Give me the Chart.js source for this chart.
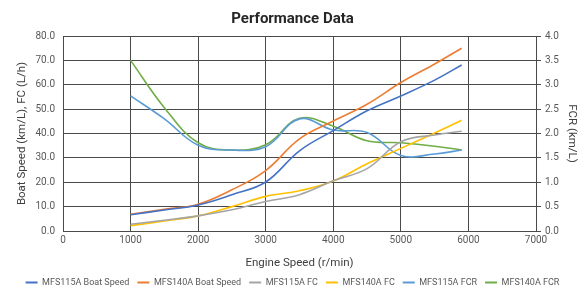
<!DOCTYPE html>
<html>
<head>
<meta charset="utf-8">
<script src="https://cdn.jsdelivr.net/npm/chart.js@4.4.1/dist/chart.umd.min.js"></script>
<style>
  html, body { margin: 0; padding: 0; background: #ffffff; }
  #wrap { width: 585px; height: 289px; position: relative; }
</style>
</head>
<body>
<div id="wrap"><canvas id="c" width="585" height="289"></canvas></div>
<script>
// ---- data ----
const engineSpeed = [1000, 1500, 2000, 2500, 3000, 3500, 4000, 4500, 5000, 5500, 5900];
const mfs115aBoatSpeed = [6.7, 8.6, 10.7, 14.9, 20.1, 32.9, 41.2, 49.3, 55.4, 61.9, 68.1];
const mfs140aBoatSpeed = [6.9, 8.9, 11.0, 16.9, 24.8, 37.8, 45.1, 52.0, 60.9, 68.5, 75.0];
const mfs115aFC = [2.75, 4.4, 6.2, 8.7, 12.1, 14.9, 20.6, 25.6, 36.6, 39.4, 40.9];
const mfs140aFC = [2.2, 4.1, 6.2, 10.0, 14.2, 16.5, 20.5, 27.6, 33.9, 40.2, 45.4];
const mfs115aFCR = [2.77, 2.30, 1.76, 1.66, 1.73, 2.30, 2.07, 2.02, 1.55, 1.58, 1.66];
const mfs140aFCR = [3.50, 2.53, 1.81, 1.66, 1.77, 2.31, 2.15, 1.85, 1.81, 1.74, 1.66];
const seriesNames = ['MFS115A Boat Speed', 'MFS140A Boat Speed', 'MFS115A FC', 'MFS140A FC', 'MFS115A FCR', 'MFS140A FCR'];
const xTicks = [0, 1000, 2000, 3000, 4000, 5000, 6000, 7000];
const leftTicks = [0, 10, 20, 30, 40, 50, 60, 70, 80];
const rightTicks = [0, 0.5, 1, 1.5, 2, 2.5, 3, 3.5, 4];

const colors = ['#4472C4', '#ED7D31', '#A5A5A5', '#FFC000', '#5B9BD5', '#70AD47'];
const FONT = 'Roboto, "Liberation Sans", sans-serif';
const GRID = '#4a4a4a';
const TXT = '#595959';

function pts(ys) { return engineSpeed.map((x, i) => ({ x: x, y: ys[i] })); }

const seriesValues = [mfs115aBoatSpeed, mfs140aBoatSpeed, mfs115aFC, mfs140aFC, mfs115aFCR, mfs140aFCR];
const datasets = seriesValues.map((vals, i) => ({
  label: seriesNames[i],
  data: pts(vals),
  borderColor: colors[i],
  backgroundColor: colors[i],
  borderWidth: 1.6,
  pointRadius: 0,
  pointHoverRadius: 0,
  tension: 0.4,
  fill: false,
  yAxisID: i >= 4 ? 'y1' : 'y'
}));

new Chart(document.getElementById('c'), {
  type: 'line',
  data: { datasets: datasets },
  options: {
    responsive: false,
    animation: false,
    devicePixelRatio: 1,
    layout: { padding: { left: 0, right: 0, top: 0, bottom: -8 } },
    plugins: {
      title: {
        display: true,
        text: 'Performance Data',
        color: '#262626',
        font: { family: FONT, size: 15, weight: 'bold' },
        padding: { top: 10, bottom: 8 }
      },
      legend: {
        display: true,
        position: 'bottom',
        labels: {
          boxWidth: 12,
          boxHeight: 2,
          padding: 8,
          color: TXT,
          font: { family: FONT, size: 9 },
          generateLabels: function (chart) {
            return Chart.defaults.plugins.legend.labels.generateLabels(chart).map(l => { l.lineWidth = 0; return l; });
          }
        }
      },
      tooltip: { enabled: false }
    },
    scales: {
      x: {
        type: 'linear',
        min: 0,
        max: 7000,
        afterBuildTicks: s => { s.ticks = xTicks.map(v => ({ value: v })); },
        afterFit: s => { s.height = 39; },
        ticks: { color: TXT, font: { family: FONT, size: 10 }, padding: 3, maxRotation: 0, callback: v => String(v) },
        grid: { color: GRID, lineWidth: 1, drawTicks: false },
        border: { color: GRID, width: 1 },
        title: { display: true, text: 'Engine Speed (r/min)', color: '#404040', font: { family: FONT, size: 11.5 }, padding: { top: 5, bottom: 0 } }
      },
      y: {
        type: 'linear',
        position: 'left',
        min: 0,
        max: 80,
        afterBuildTicks: s => { s.ticks = leftTicks.map(v => ({ value: v })); },
        afterFit: s => { s.width = 63; },
        ticks: { color: TXT, font: { family: FONT, size: 10 }, padding: 8, callback: v => Number(v).toFixed(1) },
        grid: { color: GRID, lineWidth: 1, drawTicks: false },
        border: { color: GRID, width: 1 },
        title: { display: true, text: 'Boat Speed (km/L), FC (L/h)', color: '#404040', font: { family: FONT, size: 11.5 }, padding: { top: 15, bottom: 0 } }
      },
      y1: {
        type: 'linear',
        position: 'right',
        min: 0,
        max: 4,
        afterBuildTicks: s => { s.ticks = rightTicks.map(v => ({ value: v })); },
        afterFit: s => { s.width = 49; },
        ticks: { color: TXT, font: { family: FONT, size: 10 }, padding: 4, callback: v => Number(v).toFixed(1) },
        grid: { drawOnChartArea: false, color: GRID, lineWidth: 1, drawTicks: true, tickLength: 5 },
        border: { color: GRID, width: 1 },
        title: { display: true, text: 'FCR (km/L)', color: '#404040', font: { family: FONT, size: 11.5 }, padding: { top: 6, bottom: 0 } }
      }
    }
  }
});
</script>
</body>
</html>
